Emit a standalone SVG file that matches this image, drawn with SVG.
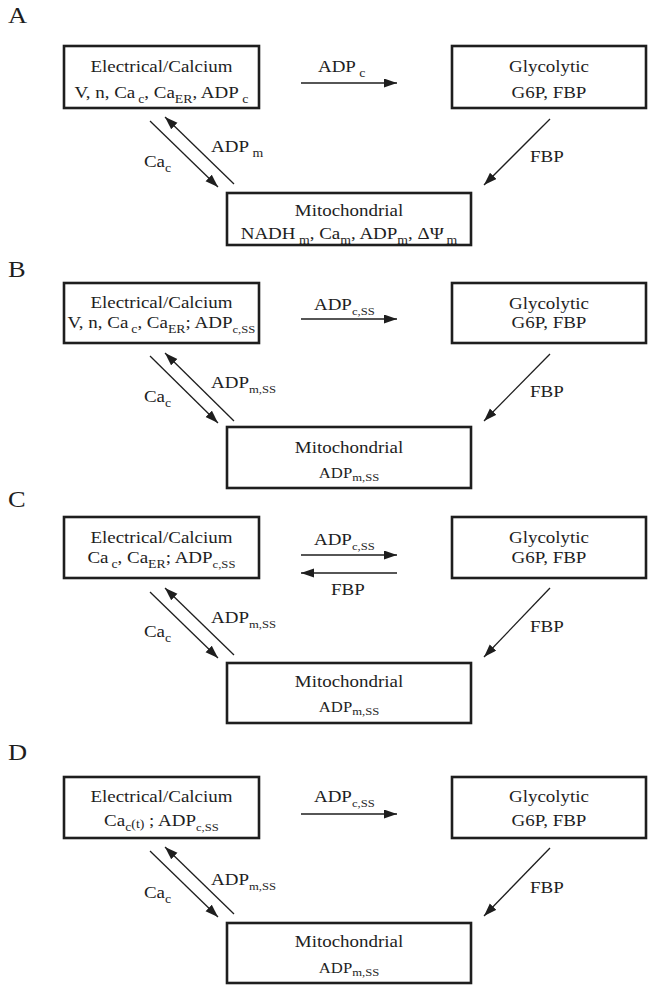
<svg xmlns="http://www.w3.org/2000/svg" width="648" height="985" viewBox="0 0 648 985">
<style>
text{font-family:"Liberation Serif","Times New Roman",serif;font-size:16.5px;fill:#1e1e1e;transform:scale(1.15,1)}
.m{text-anchor:middle}
.s{font-size:12px}
.ss{font-size:11px}
.sm{font-size:14.5px}
.pl{font-size:23px}
.box{fill:#fff;stroke:#1e1e1e;stroke-width:2.6}
.ar{stroke:#1e1e1e;stroke-width:1.3;fill:none;marker-end:url(#ah)}
</style>
<defs>
<marker id="ah" markerUnits="userSpaceOnUse" markerWidth="14" markerHeight="10" refX="13" refY="4.5" orient="auto">
<path d="M0,0 L13,4.5 L0,9 z" fill="#1e1e1e"/>
</marker>
</defs>

<g id="panel-labels">
<text class="pl" x="7" y="23">A</text>
<text class="pl" x="7" y="277">B</text>
<text class="pl" x="7" y="507">C</text>
<text class="pl" x="7" y="760">D</text>
</g>

<g id="connectors">
<!-- A -->
<line class="ar" x1="301" y1="83" x2="397" y2="83"/>
<line class="ar" x1="150" y1="121" x2="218" y2="187"/>
<line class="ar" x1="234" y1="184" x2="165" y2="117"/>
<line class="ar" x1="550" y1="119" x2="484" y2="185"/>
<!-- B -->
<line class="ar" x1="301" y1="319" x2="397" y2="319"/>
<line class="ar" x1="150" y1="356" x2="218" y2="423"/>
<line class="ar" x1="234" y1="421" x2="165" y2="353"/>
<line class="ar" x1="550" y1="354" x2="484" y2="421"/>
<!-- C -->
<line class="ar" x1="301" y1="555" x2="397" y2="555"/>
<line class="ar" x1="397" y1="573" x2="301" y2="573"/>
<line class="ar" x1="150" y1="592" x2="218" y2="658"/>
<line class="ar" x1="234" y1="655" x2="165" y2="588"/>
<line class="ar" x1="550" y1="588" x2="484" y2="657"/>
<!-- D -->
<line class="ar" x1="301" y1="814" x2="397" y2="814"/>
<line class="ar" x1="150" y1="851" x2="218" y2="917"/>
<line class="ar" x1="234" y1="914" x2="165" y2="847"/>
<line class="ar" x1="550" y1="848" x2="484" y2="916"/>
</g>

<g id="connector-labels">
<!-- A -->
<text x="276.5" y="72">ADP<tspan class="s" dx="3" dy="5">c</tspan></text>
<text x="183.5" y="152">ADP<tspan class="s" dx="3" dy="5">m</tspan></text>
<text x="125.2" y="167">Ca<tspan class="s" dy="5">c</tspan></text>
<text x="460.9" y="162">FBP</text>
<!-- B -->
<text x="273" y="310">ADP<tspan class="ss" dy="5">c,SS</tspan></text>
<text x="183.5" y="388">ADP<tspan class="ss" dy="5">m,SS</tspan></text>
<text x="125.2" y="402">Ca<tspan class="s" dy="5">c</tspan></text>
<text x="460.9" y="397">FBP</text>
<!-- C -->
<text x="273" y="545">ADP<tspan class="ss" dy="5">c,SS</tspan></text>
<text x="287.8" y="595">FBP</text>
<text x="183.5" y="623">ADP<tspan class="ss" dy="5">m,SS</tspan></text>
<text x="125.2" y="637">Ca<tspan class="s" dy="5">c</tspan></text>
<text x="460.9" y="632">FBP</text>
<!-- D -->
<text x="273" y="802">ADP<tspan class="ss" dy="5">c,SS</tspan></text>
<text x="183.5" y="885">ADP<tspan class="ss" dy="5">m,SS</tspan></text>
<text x="125.2" y="898">Ca<tspan class="s" dy="5">c</tspan></text>
<text x="460.9" y="893">FBP</text>
</g>

<!-- Panel A nodes -->
<g id="A-electrical">
<rect class="box" x="64" y="46" width="195" height="62"/>
<text class="m" x="140.4" y="72">Electrical/Calcium</text>
<text class="m" x="140.4" y="98">V, n, Ca<tspan class="s" dx="2.5" dy="5">c</tspan><tspan dy="-5">, Ca</tspan><tspan class="s" dy="5">ER</tspan><tspan dy="-5">, ADP</tspan><tspan class="s" dx="3" dy="5">c</tspan></text>
</g>
<g id="A-glycolytic">
<rect class="box" x="452" y="46" width="194" height="62"/>
<text class="m" x="477.4" y="72">Glycolytic</text>
<text class="m" x="477.4" y="98">G6P, FBP</text>
</g>
<g id="A-mitochondrial">
<rect class="box" x="227" y="193" width="244" height="52"/>
<text class="m" x="303.5" y="216">Mitochondrial</text>
<text class="m" x="303.5" y="239">NADH<tspan class="s" dx="3" dy="5">m</tspan><tspan dy="-5">, Ca</tspan><tspan class="s" dy="5">m</tspan><tspan dy="-5">, ADP</tspan><tspan class="s" dy="5">m</tspan><tspan dy="-5">, ΔΨ</tspan><tspan class="s" dx="2.5" dy="5">m</tspan></text>
</g>

<!-- Panel B nodes -->
<g id="B-electrical">
<rect class="box" x="64" y="283" width="195" height="60"/>
<text class="m" x="140.4" y="308">Electrical/Calcium</text>
<text class="m" x="140.4" y="328">V, n, Ca<tspan class="s" dx="2.5" dy="5">c</tspan><tspan dy="-5">, Ca</tspan><tspan class="s" dy="5">ER</tspan><tspan dy="-5">; ADP</tspan><tspan class="ss" dy="5">c,SS</tspan></text>
</g>
<g id="B-glycolytic">
<rect class="box" x="452" y="283" width="194" height="60"/>
<text class="m" x="477.4" y="309">Glycolytic</text>
<text class="m" x="477.4" y="328">G6P, FBP</text>
</g>
<g id="B-mitochondrial">
<rect class="box" x="227" y="427" width="244" height="61"/>
<text class="m" x="303.5" y="453">Mitochondrial</text>
<text class="m sm" x="303.5" y="478">ADP<tspan class="ss" dy="3">m,SS</tspan></text>
</g>

<!-- Panel C nodes -->
<g id="C-electrical">
<rect class="box" x="64" y="517" width="195" height="61"/>
<text class="m" x="140.4" y="543">Electrical/Calcium</text>
<text class="m" x="140.4" y="563">Ca<tspan class="s" dx="2.5" dy="5">c</tspan><tspan dy="-5">, Ca</tspan><tspan class="s" dy="5">ER</tspan><tspan dy="-5">; ADP</tspan><tspan class="ss" dy="5">c,SS</tspan></text>
</g>
<g id="C-glycolytic">
<rect class="box" x="452" y="517" width="194" height="61"/>
<text class="m" x="477.4" y="543">Glycolytic</text>
<text class="m" x="477.4" y="563">G6P, FBP</text>
</g>
<g id="C-mitochondrial">
<rect class="box" x="227" y="663" width="244" height="60"/>
<text class="m" x="303.5" y="687">Mitochondrial</text>
<text class="m sm" x="303.5" y="712">ADP<tspan class="ss" dy="3">m,SS</tspan></text>
</g>

<!-- Panel D nodes -->
<g id="D-electrical">
<rect class="box" x="64" y="777" width="195" height="61"/>
<text class="m" x="140.4" y="802">Electrical/Calcium</text>
<text class="m" x="140.4" y="826">Ca<tspan class="s" dy="5">c</tspan><tspan class="s" dy="-3">(t)</tspan><tspan dy="-2"> ; ADP</tspan><tspan class="ss" dy="5">c,SS</tspan></text>
</g>
<g id="D-glycolytic">
<rect class="box" x="452" y="777" width="194" height="61"/>
<text class="m" x="477.4" y="802">Glycolytic</text>
<text class="m" x="477.4" y="826">G6P, FBP</text>
</g>
<g id="D-mitochondrial">
<rect class="box" x="227" y="923" width="244" height="60"/>
<text class="m" x="303.5" y="947">Mitochondrial</text>
<text class="m sm" x="303.5" y="973">ADP<tspan class="ss" dy="3">m,SS</tspan></text>
</g>
</svg>
